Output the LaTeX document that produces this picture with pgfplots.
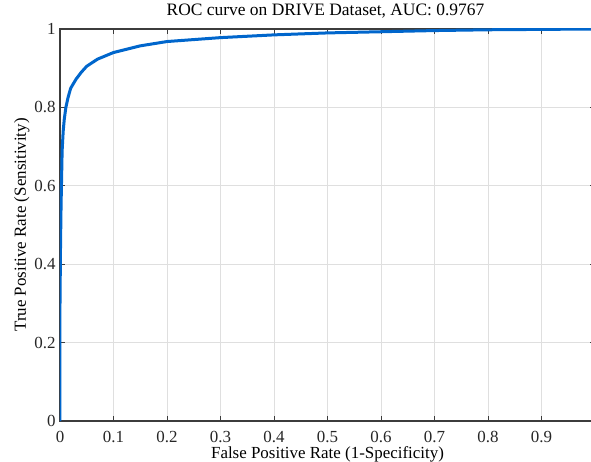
\documentclass[border=0pt]{standalone}
\usepackage{pgfplots}
\pgfplotsset{compat=1.18}
\usepackage{fontspec}
\setmainfont{Liberation Serif}
\definecolor{roc}{RGB}{0,102,204}
\definecolor{axgray}{RGB}{60,60,60}
\begin{document}
\begin{tikzpicture}
\begin{axis}[
  name=ax,
  scale only axis,
  width=535bp, height=392bp,
  xmin=0, xmax=1, ymin=0, ymax=1,
  xtick={0,0.1,...,1.0}, ytick={0,0.2,...,1.0},
  xticklabels={0,0.1,0.2,0.3,0.4,0.5,0.6,0.7,0.8,0.9,1},
  yticklabels={0,0.2,0.4,0.6,0.8,1},
  grid=major,
  grid style={gray!25, line width=0.8bp},
  axis line style={axgray, line width=1.2bp},
  tick style={axgray, line width=1bp},
  tick align=inside,
  major tick length=5bp,
  /pgf/number format/assume math mode=true,
  tick label style={font=\fontsize{17}{19}\selectfont, text=black!85},
  xticklabel style={anchor=base, yshift=-21bp, inner sep=0pt},
  yticklabel style={xshift=-1bp},
  title={ROC curve on DRIVE Dataset, AUC: 0.9767},
  title style={font=\fontsize{17.5}{19}\selectfont, at={(axis description cs:0.5,1)}, anchor=base, yshift=8bp, xshift=-2bp},
  xlabel={False Positive Rate (1-Specificity)},
  ylabel={True Positive Rate (Sensitivity)},
  label style={font=\fontsize{17}{19}\selectfont},
  xlabel style={at={(axis description cs:0.5,0)}, anchor=base, yshift=-37bp, inner sep=0pt},
  ylabel style={at={(axis description cs:-0.064,0.5)}, anchor=base},
]
\addplot[roc, line width=3bp, line join=round] coordinates {
(0,0) (0,0.30) (0.001,0.45) (0.002,0.55) (0.003,0.62) (0.004,0.69)
(0.006,0.74) (0.008,0.77) (0.011,0.80) (0.015,0.825) (0.02,0.849)
(0.03,0.872) (0.04,0.89) (0.05,0.905) (0.07,0.923) (0.1,0.94)
(0.15,0.957) (0.2,0.968) (0.3,0.978) (0.4,0.985) (0.5,0.99)
(0.6,0.993) (0.7,0.996) (0.8,0.998) (0.9,0.999) (1,1)
};
\end{axis}
\pgfresetboundingbox
\path ([xshift=-60bp,yshift=-41bp]ax.south west) rectangle ([xshift=-4bp,yshift=29bp]ax.north east);
\end{tikzpicture}
\end{document}
